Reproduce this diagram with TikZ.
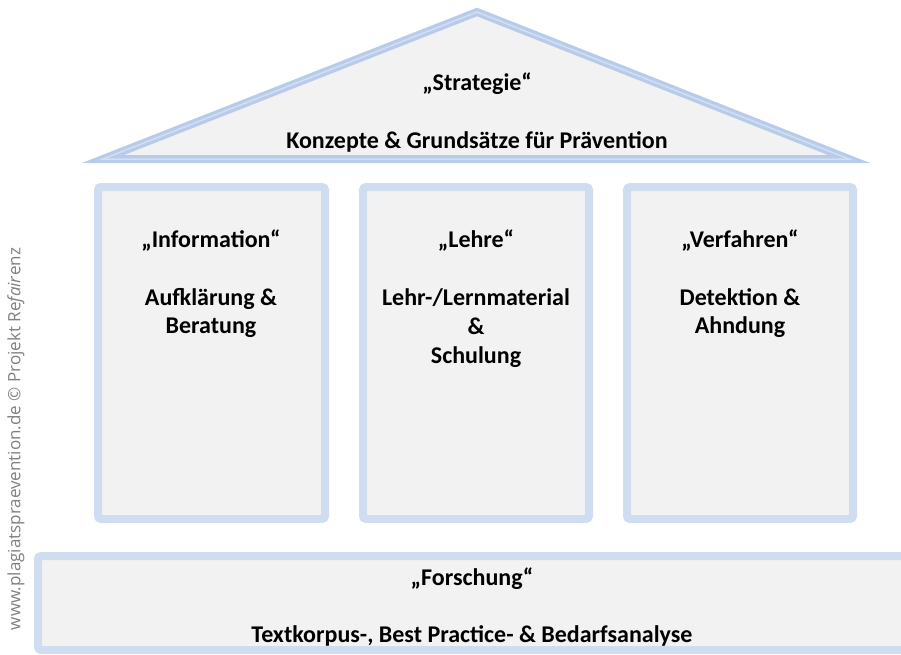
\documentclass[tikz,border=0pt]{standalone}
\usepackage{fontspec}
\setmainfont{Carlito}
\newfontfamily\wmfont{Open Sans}
\definecolor{roofblue}{RGB}{184,204,234}
\definecolor{roofinner}{RGB}{210,222,242}
\definecolor{pillarblue}{RGB}{208,220,240}
\definecolor{boxfill}{RGB}{242,242,242}
\definecolor{wmgray}{RGB}{128,128,128}
\tikzset{
  roofpart/.style={draw=roofblue, line width=8pt, fill=boxfill, line join=miter},
  pillarbox/.style={draw=pillarblue, line width=8pt, fill=boxfill, rounded corners=3pt},
  lbl/.style={font=\bfseries\fontsize{24}{29}\selectfont, anchor=base, inner sep=0pt},
  watermark/.style={font=\wmfont\fontsize{17}{20}\selectfont, text=wmgray, rotate=90, inner sep=0pt}
}
\begin{document}
\begin{tikzpicture}[x=1pt,y=-1pt]
\useasboundingbox (0,0) rectangle (901,654);
% roof
\coordinate (ra) at (477,12);
\coordinate (rl) at (103,159);
\coordinate (rr) at (849,159);
\draw[roofpart] (rl) -- (ra) -- (rr) -- cycle;
\draw[roofinner, line width=1.5pt] (rl) -- (ra) -- (rr) -- cycle;
% pillars
\draw[pillarbox] (98,187) rectangle (325,519);
\draw[pillarbox] (363,187) rectangle (589,519);
\draw[pillarbox] (627,187) rectangle (853,519);
% base
\draw[pillarbox] (38,556) rectangle (910,650);
% roof texts
\node[lbl] (strat) at (477,90) {„Strategie“};
\node[lbl] (konz) at (477,148) {Konzepte \& Grundsätze für Prävention};
% pillar 1
\node[lbl] (info) at (211,247) {„Information“};
\node[lbl] (info1) at (211,305) {Aufklärung \&};
\node[lbl] (info2) at (211,333) {Beratung};
% pillar 2
\node[lbl] (lehre) at (476,247) {„Lehre“};
\node[lbl] (lehre1) at (476,305) {Lehr-/Lernmaterial};
\node[lbl] (lehre2) at (476,334) {\&};
\node[lbl] (lehre3) at (476,363) {Schulung};
% pillar 3
\node[lbl] (verf) at (740,247) {„Verfahren“};
\node[lbl] (verf1) at (740,305) {Detektion \&};
\node[lbl] (verf2) at (740,333) {Ahndung};
% base
\node[lbl] (forsch) at (472,585) {„Forschung“};
\node[lbl] (forsch1) at (472,642) {Textkorpus-, Best Practice- \& Bedarfsanalyse};
% watermark
\node[watermark] (wm) at (16,439) {www.plagiatspraevention.de © Projekt Re\textit{fair}enz};
\end{tikzpicture}
\end{document}
